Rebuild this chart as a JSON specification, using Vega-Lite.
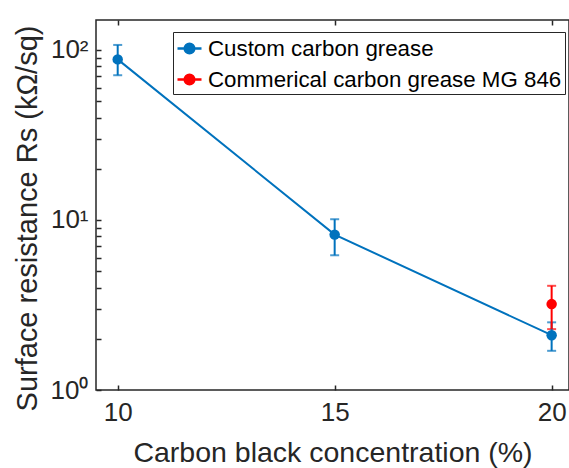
{
  "$schema": "https://vega.github.io/schema/vega-lite/v6.json",
  "autosize": "none",
  "width": 473,
  "height": 370,
  "padding": {"left": 96, "top": 20, "right": 0, "bottom": 78},
  "background": "white",
  "config": {
    "font": "Liberation Sans",
    "view": {"stroke": "#262626", "strokeWidth": 1.5},
    "axis": {
      "domain": false,
      "tickColor": "#262626",
      "tickWidth": 1.5,
      "tickSize": -5,
      "labelColor": "#262626",
      "labelFontSize": 26,
      "labelFont": "Liberation Sans",
      "titleFont": "Liberation Sans",
      "titleFontSize": 28.5,
      "titleFontWeight": "normal",
      "titleColor": "#262626",
      "grid": false
    },
    "legend": {
      "labelFont": "Liberation Sans"
    }
  },
  "data": {
    "values": [
      {"conc": 10, "rs": 88, "lo": 71, "hi": 107, "series": "Custom carbon grease"},
      {"conc": 15, "rs": 8.2, "lo": 6.2, "hi": 10.1, "series": "Custom carbon grease"},
      {"conc": 20, "rs": 2.1, "lo": 1.7, "hi": 2.5, "series": "Custom carbon grease"},
      {"conc": 20, "rs": 3.2, "lo": 2.28, "hi": 4.1, "series": "Commerical carbon grease MG 846"}
    ]
  },
  "resolve": {"axis": {"x": "independent"}},
  "layer": [
    {
      "mark": {"type": "line", "strokeWidth": 2},
      "encoding": {
        "x": {"field": "conc", "type": "quantitative",
              "scale": {"domain": [9.5, 20.4], "nice": false, "zero": false},
              "axis": {"orient": "top", "values": [10, 15, 20], "labels": false, "title": null}},
        "y": {"field": "rs", "type": "quantitative",
              "title": "Surface resistance Rs (kΩ/sq)",
              "scale": {"type": "log", "domain": [1, 150], "nice": false},
              "axis": {
                "values": [1,2,3,4,5,6,7,8,9,10,20,30,40,50,60,70,80,90,100],
                "labelExpr": "datum.value == 100 ? '10²' : datum.value == 10 ? '10¹' : datum.value == 1 ? '10⁰' : ''",
                "labelPadding": 13,
                "titlePadding": 8,
                "titleY": 198,
                "titleFontSize": 29
              }},
        "color": {"field": "series", "type": "nominal",
                  "scale": {"domain": ["Custom carbon grease", "Commerical carbon grease MG 846"], "range": ["#0072BD", "#FF0000"]},
                  "legend": {
                    "orient": "none", "legendX": 77, "legendY": 12,
                    "title": null,
                    "strokeColor": "#262626", "fillColor": "white",
                    "padding": 3,
                    "labelFontSize": 22.3, "labelColor": "black", "labelOffset": 5, "labelLimit": 1000,
                    "symbolType": "M-1,0L1,0M-0.4,0A0.4,0.4,0,1,0,0.4,0A0.4,0.4,0,1,0,-0.4,0Z",
                    "symbolSize": 576, "symbolStrokeWidth": 2.5,
                    "rowPadding": 6,
                    "encode": {"symbols": {"update": {"fill": {"scale": "color", "field": "value"}, "stroke": {"scale": "color", "field": "value"}, "fillOpacity": {"value": 1}}}}
                  }}
      }
    },
    {
      "mark": {"type": "errorbar", "ticks": {"size": 9, "thickness": 2}, "thickness": 2},
      "encoding": {
        "x": {"field": "conc", "type": "quantitative",
              "axis": {"values": [10, 15, 20], "labelPadding": 14, "title": "Carbon black concentration (%)", "titlePadding": 13}},
        "y": {"field": "lo", "type": "quantitative", "title": "Surface resistance Rs (kΩ/sq)"},
        "y2": {"field": "hi"},
        "color": {"field": "series", "type": "nominal"}
      }
    },
    {
      "mark": {"type": "point", "filled": true, "opacity": 1, "size": 110},
      "encoding": {
        "x": {"field": "conc", "type": "quantitative", "axis": null},
        "y": {"field": "rs", "type": "quantitative", "title": "Surface resistance Rs (kΩ/sq)"},
        "color": {"field": "series", "type": "nominal"}
      }
    }
  ]
}
